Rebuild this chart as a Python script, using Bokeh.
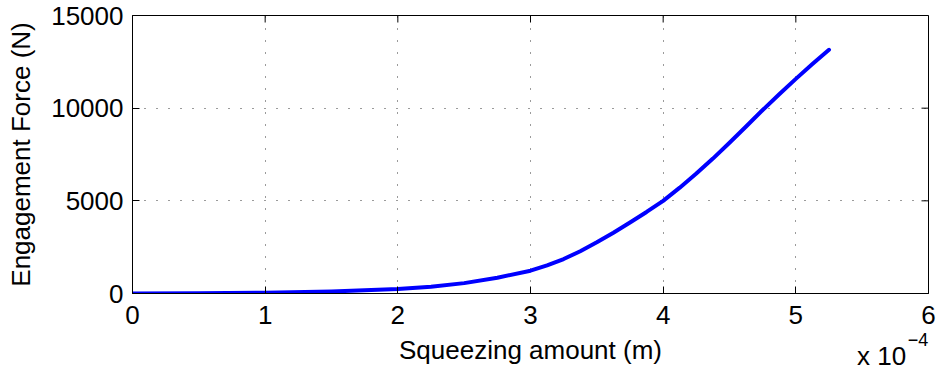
from bokeh.plotting import figure
from bokeh.models import (Range1d, FixedTicker, LinearAxis, CustomJSTickFormatter,
                          BasicTickFormatter, ColumnDataSource)
from bokeh.embed import file_html
from bokeh.resources import INLINE

# ---- data ----
squeeze_m = [0.0, 0.5e-4, 1.0e-4, 1.5e-4, 2.0e-4, 2.25e-4, 2.5e-4, 2.75e-4, 3.0e-4,
             3.125e-4, 3.25e-4, 3.375e-4, 3.5e-4, 3.625e-4, 3.75e-4, 3.875e-4, 4.0e-4,
             4.125e-4, 4.25e-4, 4.375e-4, 4.5e-4, 4.625e-4, 4.75e-4, 4.875e-4, 5.0e-4,
             5.125e-4, 5.25e-4]
force_n = [0, 10, 40, 110, 240, 370, 560, 850, 1230,
           1520, 1860, 2280, 2760, 3280, 3830, 4400, 5000,
           5710, 6470, 7280, 8130, 9010, 9900, 10750, 11580,
           12380, 13150]

x_ticks = [0.0, 1e-4, 2e-4, 3e-4, 4e-4, 5e-4, 6e-4]
y_ticks = [0, 5000, 10000, 15000]
x_label = "Squeezing amount (m)"
y_label = "Engagement Force (N)"
exp_base = "x 10"
exp_power = "\u22124"
x_label_pos = 3.0e-4
exp_base_pos = 5.646e-4
exp_power_pos = 5.92e-4

FONT = "Liberation Sans"
FS = "26px"
X_MAX, Y_MAX = 6e-4, 15000

p = figure(width=940, height=374, output_backend="svg", toolbar_location=None,
           x_range=Range1d(0, X_MAX), y_range=Range1d(0, Y_MAX),
           min_border_left=132, min_border_right=12, min_border_top=15,
           min_border_bottom=81, background_fill_color="white",
           border_fill_color="white")
p.outline_line_color = "black"
p.outline_line_width = 1

src = ColumnDataSource(dict(x=squeeze_m, y=force_n))
p.line("x", "y", source=src, line_color="#0000FF", line_width=4,
       line_join="round", line_cap="round")

xt = FixedTicker(ticks=x_ticks, minor_ticks=[])
yt = FixedTicker(ticks=y_ticks, minor_ticks=[])

for ax in p.xaxis:
    ax.ticker = xt
    ax.formatter = CustomJSTickFormatter(code="return (tick*1e4).toFixed(0);")
for ax in p.yaxis:
    ax.ticker = yt
    ax.formatter = BasicTickFormatter(use_scientific=False)
    ax.axis_label = y_label

for ax in p.xaxis + p.yaxis:
    ax.major_tick_in = 7
    ax.major_tick_out = 0
    ax.minor_tick_in = 0
    ax.minor_tick_out = 0
    ax.axis_line_color = "black"
    ax.major_tick_line_color = "black"
    ax.major_label_text_font = FONT
    ax.major_label_text_font_size = FS
    ax.major_label_text_color = "black"
    ax.axis_label_text_font = FONT
    ax.axis_label_text_font_size = FS
    ax.axis_label_text_font_style = "normal"
    ax.axis_label_text_color = "black"

p.xaxis.major_label_standoff = 12
p.yaxis.major_label_standoff = 9
p.yaxis.axis_label_standoff = 12


def text_axis(pos, text, size, standoff):
    return LinearAxis(ticker=FixedTicker(ticks=[pos], minor_ticks=[]),
                      formatter=CustomJSTickFormatter(args=dict(t=text),
                                                      code="return t;"),
                      axis_line_color=None, major_tick_line_color=None,
                      minor_tick_line_color=None, major_tick_in=0, major_tick_out=0,
                      minor_tick_in=0, minor_tick_out=0,
                      major_label_standoff=standoff, major_label_text_font=FONT,
                      major_label_text_font_size=size, major_label_text_color="black")


# x label, exponent base and superscript as text-only axes stacked below
p.add_layout(text_axis(x_label_pos, x_label, FS, 8), "below")
p.add_layout(text_axis(exp_base_pos, exp_base, FS, -27), "below")
p.add_layout(text_axis(exp_power_pos, exp_power, "18px", -41), "below")

# mirrored inward tick marks on top and right (MATLAB box style)
tick_dy = Y_MAX * 7 / 278
tick_dx = X_MAX * 7 / 796
p.segment(x0=x_ticks, y0=[Y_MAX] * len(x_ticks), x1=x_ticks,
          y1=[Y_MAX - tick_dy] * len(x_ticks), line_color="black", line_width=1)
p.segment(x0=[X_MAX] * len(y_ticks), y0=y_ticks, x1=[X_MAX - tick_dx] * len(y_ticks),
          y1=y_ticks, line_color="black", line_width=1)

p.xgrid.ticker = xt
p.ygrid.ticker = yt
for g in (p.xgrid[0], p.ygrid[0]):
    g.grid_line_color = "#222222"
    g.grid_line_dash = "1 11"
    g.grid_line_width = 1
    g.grid_line_alpha = 0.9

open("out.html", "w").write(file_html(p, INLINE))
